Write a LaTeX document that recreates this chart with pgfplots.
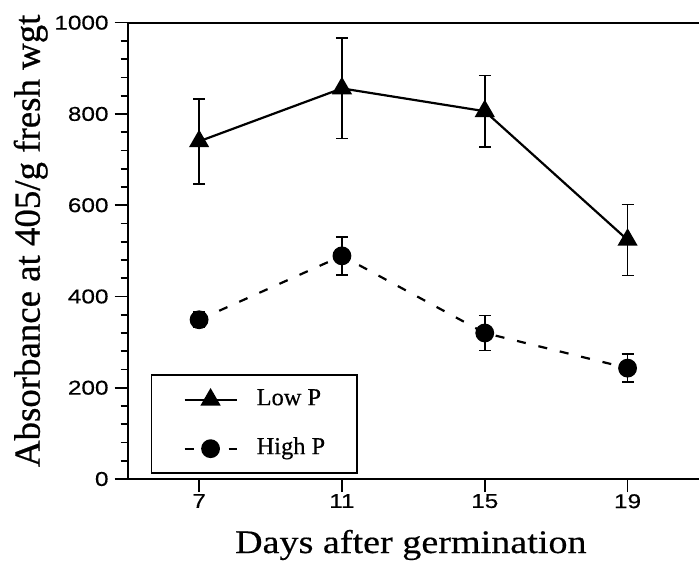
\documentclass[border=0pt]{standalone}
\usepackage{fontspec}
\usepackage{pgfplots}
\pgfplotsset{compat=1.18}
% base size is 10pt, so Scale=2 gives 20pt
\newfontfamily\tickfont[FakeStretch=1.22, FakeBold=0.4, Scale=2.0]{Liberation Sans}
\newfontfamily\xlabfont[FakeStretch=1.16, FakeBold=0.4, Scale=3.3]{Liberation Serif}
\newfontfamily\ylabfont[FakeBold=0.6, Scale=3.7]{Liberation Serif}
\newfontfamily\legfont[FakeBold=0.4, Scale=2.45]{Liberation Serif}

\begin{document}
\begin{tikzpicture}
\begin{axis}[
    at={(0,0)}, anchor=south west,
    scale only axis,
    width=574.3bp, height=456.3bp,
    xmin=5, xmax=21.084,
    ymin=0, ymax=1000,
    xtick={7,11,15,19},
    ytick={0,200,400,600,800,1000},
    minor y tick num=4,
    tick pos=left,
    tick align=outside,
    major tick length=13bp,
    minor tick length=7bp,
    axis line style={line width=2.2bp},
    every tick/.style={line width=1.6bp, black},
    /pgf/number format/assume math mode=true,
    /pgf/number format/1000 sep={},
    xticklabel style={font=\tickfont, inner sep=0pt, yshift=-2bp},
    yticklabel style={font=\tickfont, inner sep=0pt, xshift=-6bp},
    xlabel={Days after germination},
    ylabel={Absorbance at 405/g fresh wgt},
    every axis x label/.style={at={([yshift=-74bp]axis description cs:0.493,0)}, anchor=base,
        font=\xlabfont},
    every axis y label/.style={at={([xshift=-88bp]axis description cs:0,0.522)}, anchor=base, rotate=90,
        font=\ylabfont},
    legend style={at={(axis description cs:0.040,0.011)}, anchor=south west,
        draw=black, line width=1.6bp, inner xsep=32bp, inner ysep=14bp,
        row sep=28bp, font=\legfont,
        nodes={inner sep=0pt, text height=16bp, text depth=5bp},
        /tikz/every odd column/.append style={column sep=19bp}},
    legend cell align=left,
    legend image code/.code={
        \draw[mark repeat=2, mark phase=2, #1] plot coordinates {(0bp,0bp) (26bp,0bp) (52bp,0bp)};
    },
    error bars/y dir=both,
    error bars/y explicit,
    error bars/error bar style={line width=1.6bp, solid},
    error bars/error mark options={rotate=90, mark size=6bp, line width=1.6bp, solid},
]

% Low P
\addplot[black, line width=2.2bp, mark=triangle*, mark size=9.5bp, mark options={solid}]
coordinates {
    (7,740) +- (0,93)
    (11,856) +- (0,110)
    (15,806) +- (0,78)
    (19,524) +- (0,78)
};
\addlegendentry{Low P}

% High P
\addplot[black, line width=2.2bp, dash pattern=on 9bp off 13bp, mark=*, mark size=8.3bp, mark options={solid}]
coordinates {
    (7,349) +- (0,17)
    (11,489) +- (0,42)
    (15,320) +- (0,38)
    (19,243) +- (0,31)
};
\addlegendentry{High P}

\end{axis}
\pgfresetboundingbox
\path[use as bounding box] (-127.7bp,-82bp) rectangle (571.3bp,479bp);
\end{tikzpicture}
\end{document}
